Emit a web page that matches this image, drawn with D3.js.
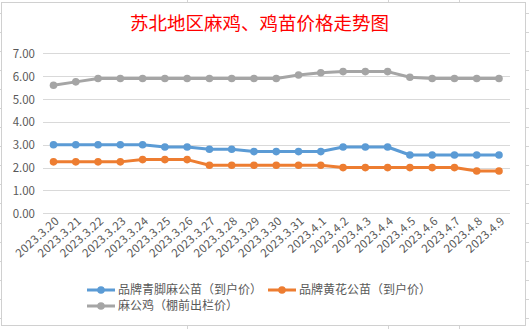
<!DOCTYPE html>
<html><head><meta charset="utf-8">
<script src="https://cdn.jsdelivr.net/npm/d3@7"></script>
<style>html,body{margin:0;padding:0;background:#fff;}svg{display:block;}</style>
</head><body>
<svg id="c" width="529" height="329"></svg>
<script>
const categories = ["2023.3.20","2023.3.21","2023.3.22","2023.3.23","2023.3.24","2023.3.25","2023.3.26","2023.3.27","2023.3.28","2023.3.29","2023.3.30","2023.3.31","2023.4.1","2023.4.2","2023.4.3","2023.4.4","2023.4.5","2023.4.6","2023.4.7","2023.4.8","2023.4.9"];
const blueSeries = [3.0,3.0,3.0,3.0,3.0,2.9,2.9,2.8,2.8,2.7,2.7,2.7,2.7,2.9,2.9,2.9,2.55,2.55,2.55,2.55,2.55];
const orangeSeries = [2.25,2.25,2.25,2.25,2.35,2.35,2.35,2.1,2.1,2.1,2.1,2.1,2.1,2.0,2.0,2.0,2.0,2.0,2.0,1.85,1.85];
const graySeries = [5.6,5.75,5.9,5.9,5.9,5.9,5.9,5.9,5.9,5.9,5.9,6.05,6.15,6.2,6.2,6.2,5.95,5.9,5.9,5.9,5.9];
const seriesNames = ["品牌青脚麻公苗（到户价）","品牌黄花公苗（到户价）","麻公鸡（棚前出栏价）"];
const yTicks = [0,1,2,3,4,5,6,7];
const title = "苏北地区麻鸡、鸡苗价格走势图";

const colors = ["#5B9BD5","#ED7D31","#A5A5A5"];
const svg = d3.select("#c");
const font = "'Noto Sans CJK SC','Noto Sans',sans-serif";

// spreadsheet background grid
const sheet = svg.append("g").attr("stroke","#d4d4d4").attr("stroke-width",1);
[187.5,388.5,459.5].forEach(x=>{
  sheet.append("line").attr("x1",x).attr("x2",x).attr("y1",0).attr("y2",2);
  sheet.append("line").attr("x1",x).attr("x2",x).attr("y1",326).attr("y2",329);
});
for(let y=12.5;y<329;y+=19.1){
  const yy=Math.round(y)+0.5;
  sheet.append("line").attr("x1",526).attr("x2",529).attr("y1",yy).attr("y2",yy);
  sheet.append("line").attr("x1",0).attr("x2",1).attr("y1",yy).attr("y2",yy);
}
// chart border
svg.append("rect").attr("x",1.5).attr("y",2.5).attr("width",524).attr("height",323)
  .attr("fill","#fff").attr("stroke","#d0d0d0").attr("stroke-width",1);

// title
svg.append("text").attr("x",259.5).attr("y",30).attr("text-anchor","middle")
  .attr("font-family",font).attr("font-size",18.5).attr("fill","#FF0000").text(title);

const x = d3.scalePoint().domain(categories).range([53.5,499]);
const y = d3.scaleLinear().domain([0,7]).range([213.3,53.3]);

// gridlines
const grid = svg.append("g");
yTicks.forEach(t=>{
  grid.append("line").attr("x1",43).attr("x2",510)
    .attr("y1",Math.round(y(t))+0.5).attr("y2",Math.round(y(t))+0.5)
    .attr("stroke","#d9d9d9").attr("stroke-width",1);
});

// y axis labels
const yAxis = d3.axisLeft(y).tickValues(yTicks).tickFormat(d3.format(".2f")).tickSize(0).tickPadding(0);
const ya = svg.append("g").attr("transform","translate(35,0)").call(yAxis);
ya.select(".domain").remove();
ya.selectAll("text").attr("font-family",font).attr("font-size",11.5).attr("fill","#595959").attr("dy","0.35em");

// x axis labels
const xAxis = d3.axisBottom(x).tickSize(0).tickPadding(0);
const xa = svg.append("g").attr("transform","translate(0,220)").call(xAxis);
xa.select(".domain").remove();
xa.selectAll("text").attr("font-family",font).attr("font-size",11.5).attr("fill","#595959")
  .attr("text-anchor","end").attr("dy",0).attr("y",0).attr("letter-spacing",0.3)
  .attr("transform","translate(6,2) rotate(-42)");

// series
const allSeries = [blueSeries, orangeSeries, graySeries];
const line = d3.line().x((d,i)=>x(categories[i])).y(d=>y(d));
[2,1,0].forEach(k=>{
  const g = svg.append("g");
  g.append("path").datum(allSeries[k]).attr("d",line).attr("fill","none")
    .attr("stroke",colors[k]).attr("stroke-width",3).attr("stroke-linejoin","round");
  g.selectAll("circle").data(allSeries[k]).join("circle")
    .attr("cx",(d,i)=>x(categories[i])).attr("cy",d=>y(d)).attr("r",3.8).attr("fill",colors[k]);
});

// legend
const legendPos = [[87,290],[268,290],[87,306]];
seriesNames.forEach((n,k)=>{
  const [lx,ly]=legendPos[k];
  const g = svg.append("g");
  g.append("line").attr("x1",lx).attr("x2",lx+28).attr("y1",ly).attr("y2",ly)
    .attr("stroke",colors[k]).attr("stroke-width",3);
  g.append("circle").attr("cx",lx+14).attr("cy",ly).attr("r",3.8).attr("fill",colors[k]);
  g.append("text").attr("x",lx+31).attr("y",ly).attr("dy","0.35em")
    .attr("font-family",font).attr("font-size",12).attr("fill","#595959").text(n);
});
</script>
</body></html>
